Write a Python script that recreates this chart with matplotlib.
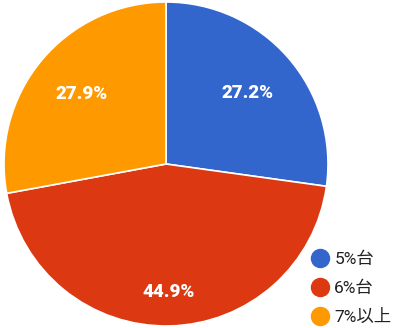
import matplotlib.pyplot as plt
from matplotlib.lines import Line2D
import numpy as np

categorias = ['5%台', '6%台', '7%以上']
porcentajes = [27.2, 44.9, 27.9]
colores = ['#3366CC', '#DC3912', '#FF9900']

plt.rcParams['font.family'] = ['Roboto', 'Noto Sans CJK JP', 'DejaVu Sans']

fig = plt.figure(figsize=(4.02, 3.28), dpi=100)
ax = fig.add_axes([4 / 402, 2 / 328, 324 / 402, 324 / 328])

wedges, _ = ax.pie(porcentajes, colors=colores, startangle=90, counterclock=False,
                   radius=1.0, wedgeprops=dict(edgecolor='white', linewidth=1.2))
ax.set_xlim(-1, 1)
ax.set_ylim(-1, 1)
ax.set_aspect('equal')

# radio de cada etiqueta (la grande va más afuera)
radios = [0.67, 0.79, 0.68]
for w, p, r in zip(wedges, porcentajes, radios):
    ang = np.deg2rad((w.theta1 + w.theta2) / 2)
    ax.text(r * np.cos(ang), r * np.sin(ang), f'{p}%', color='white',
            fontsize=13.5, fontweight='heavy', ha='center', va='center')

handles = [Line2D([], [], marker='o', linestyle='', markersize=13,
                  markerfacecolor=c, markeredgecolor=c) for c in colores]
fig.legend(handles, categorias, loc='upper left', bbox_to_anchor=(303 / 402, 1 - 245 / 328),
           frameon=False, fontsize=12.5, handletextpad=0.2, labelspacing=0.75,
           handlelength=1.2, borderaxespad=0, labelcolor='#222222')

fig.savefig('out.png', dpi=100)
